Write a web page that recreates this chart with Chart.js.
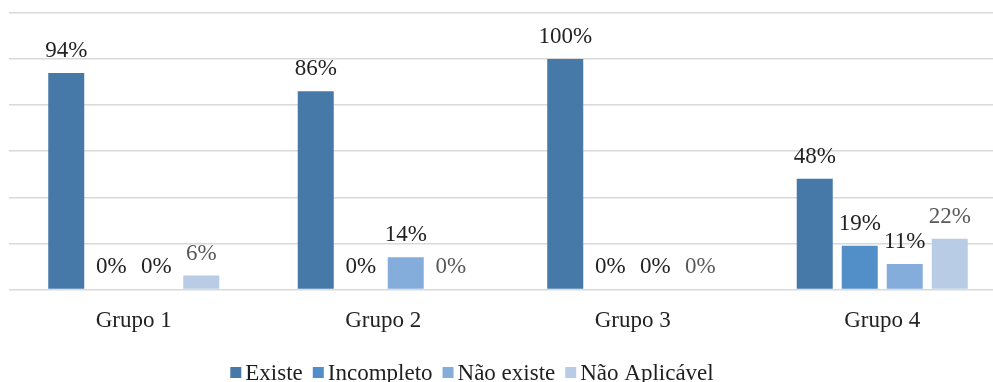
<!DOCTYPE html>
<html>
<head>
<meta charset="utf-8">
<script src="https://cdn.jsdelivr.net/npm/chart.js@4.4.1/dist/chart.umd.min.js"></script>
<style>
  html, body { margin: 0; padding: 0; background: #fff; overflow: hidden; }
  #wrap { width: 1008px; height: 382px; }
</style>
</head>
<body>
<div id="wrap"><canvas id="chart"></canvas></div>
<script>
const grupos = ['Grupo 1', 'Grupo 2', 'Grupo 3', 'Grupo 4'];
const existe = [94, 86, 100, 48];
const incompleto = [0, 0, 0, 19];
const naoExiste = [0, 14, 0, 11];
const naoAplicavel = [6, 0, 0, 22];

const serif = "'Liberation Serif', 'Times New Roman', serif";

// percent labels above every bar
const valueLabels = {
  id: 'valueLabels',
  afterDatasetsDraw(chart) {
    const c = chart.ctx;
    c.save();
    c.font = '23px ' + serif;
    c.textAlign = 'center';
    c.textBaseline = 'alphabetic';
    chart.data.datasets.forEach((ds, i) => {
      const meta = chart.getDatasetMeta(i);
      c.fillStyle = ds.labelColor;
      meta.data.forEach((bar, j) => {
        c.fillText(ds.data[j] + '%', bar.x, bar.y - 16);
      });
    });
    c.restore();
  }
};

// compact legend row: small square, tight gap, then the label
const bottomLegend = {
  id: 'bottomLegend',
  afterDraw(chart) {
    const c = chart.ctx;
    const box = 11, gap = 4, spacing = 10, centerX = 472, baseline = 380;
    c.save();
    c.font = '23px ' + serif;
    c.textBaseline = 'alphabetic';
    const items = chart.data.datasets.map(ds => ({
      text: ds.label, color: ds.backgroundColor, w: c.measureText(ds.label).width
    }));
    const total = items.reduce((s, it) => s + box + gap + it.w, 0) + spacing * (items.length - 1);
    let x = centerX - total / 2;
    items.forEach(it => {
      c.fillStyle = it.color;
      c.fillRect(x, baseline - 13, box, box);
      c.fillStyle = '#1f1f1f';
      c.fillText(it.text, x + box + gap, baseline);
      x += box + gap + it.w + spacing;
    });
    c.restore();
  }
};

new Chart(document.getElementById('chart'), {
  type: 'bar',
  data: {
    labels: grupos,
    datasets: [
      { label: 'Existe', data: existe, backgroundColor: 'rgb(70,120,168)', labelColor: '#222222' },
      { label: 'Incompleto', data: incompleto, backgroundColor: 'rgb(82,142,199)', labelColor: '#222222' },
      { label: 'Não existe', data: naoExiste, backgroundColor: 'rgb(132,173,219)', labelColor: '#222222' },
      { label: 'Não Aplicável', data: naoAplicavel, backgroundColor: 'rgb(184,204,230)', labelColor: '#595959' }
    ]
  },
  options: {
    responsive: true,
    maintainAspectRatio: false,
    animation: false,
    datasets: { bar: { categoryPercentage: 0.7215, barPercentage: 0.8 } },
    layout: { padding: { top: 13, left: 9, right: 1, bottom: 37 } },
    scales: {
      x: {
        grid: { display: false },
        border: { display: false },
        ticks: { color: '#222222', font: { family: serif, size: 23 }, padding: 10 }
      },
      y: {
        min: 0,
        max: 120,
        ticks: { display: false, stepSize: 20 },
        grid: { color: '#d9d9d9', lineWidth: 1.5, drawTicks: false },
        border: { display: false }
      }
    },
    plugins: {
      tooltip: { enabled: false },
      legend: { display: false }
    }
  },
  plugins: [valueLabels, bottomLegend]
});
</script>
</body>
</html>
